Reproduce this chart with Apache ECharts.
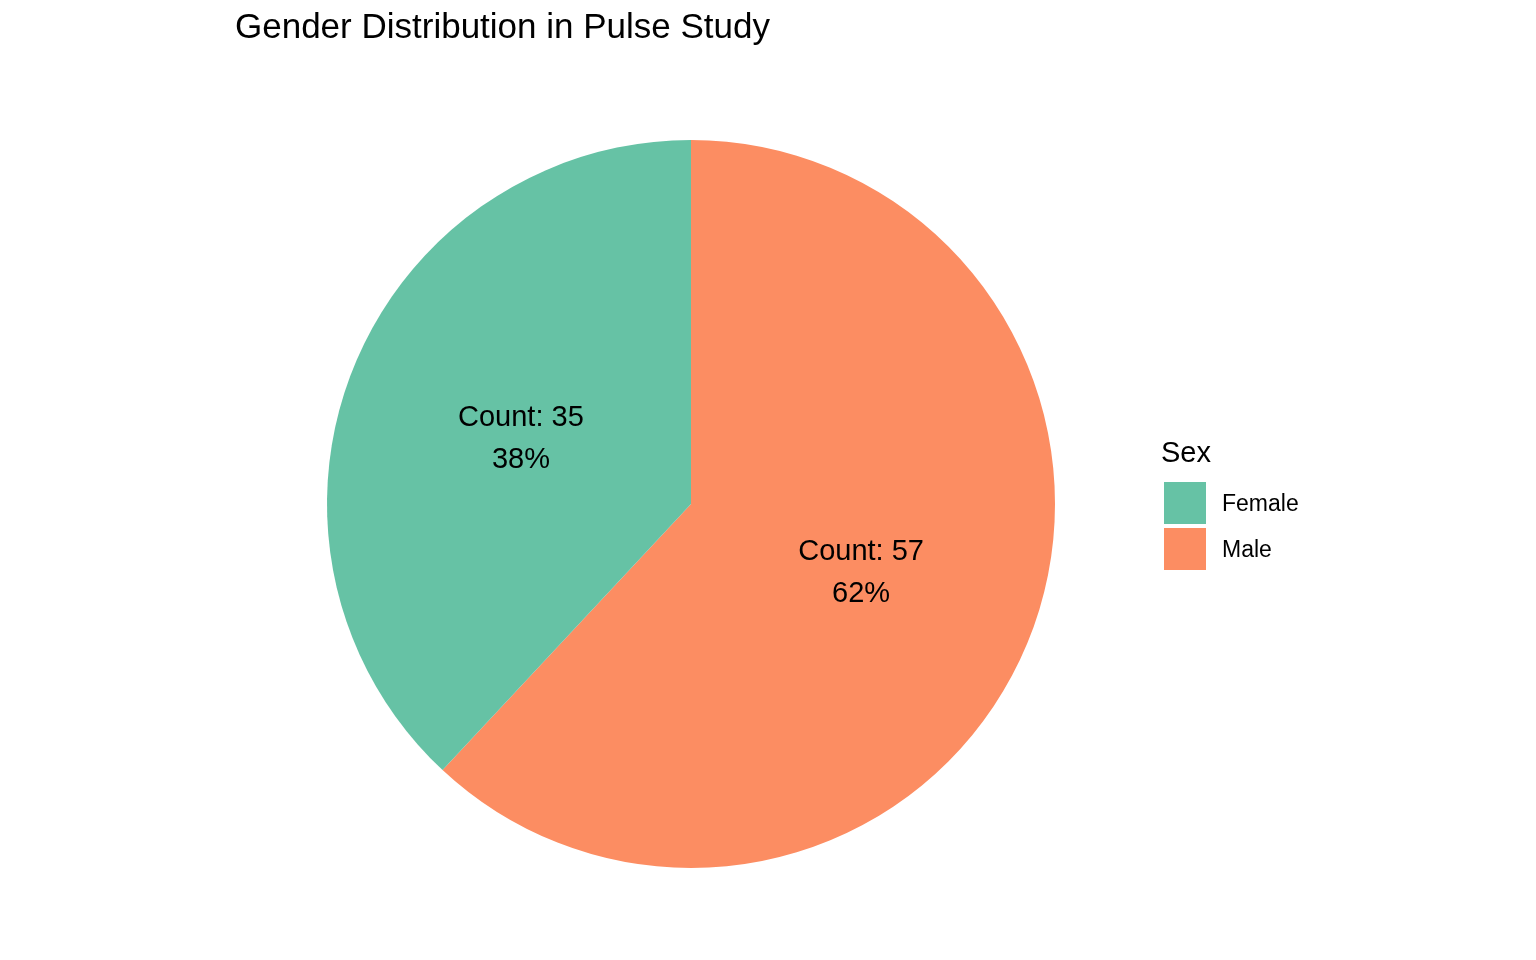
<!DOCTYPE html>
<html>
<head>
<meta charset="utf-8">
<script src="https://cdn.jsdelivr.net/npm/echarts@6/dist/echarts.min.js"></script>
<style>
html,body{margin:0;padding:0;background:#fff;}
#chart{width:1536px;height:960px;}
</style>
</head>
<body>
<div id="chart"></div>
<script>
const categories = ['Male', 'Female'];
const counts = [57, 35];
const colors = { Female: '#66C2A5', Male: '#FC8D62' };
const legendOrder = ['Female', 'Male'];
const chartTitle = 'Gender Distribution in Pulse Study';
const legendTitle = 'Sex';

const labelOffsets = { Female: [2, 3], Male: [-2, 1] };
const FONT = 'Liberation Sans, Arial, Helvetica, sans-serif';
const chart = echarts.init(document.getElementById('chart'));
chart.setOption({
  backgroundColor: '#ffffff',
  animation: false,
  title: [
    { text: chartTitle, left: 235, top: 11, padding: 0,
      textStyle: { fontFamily: FONT, fontSize: 35, fontWeight: 'normal', color: '#000' } },
    { text: legendTitle, left: 1161, top: 439, padding: 0,
      textStyle: { fontFamily: FONT, fontSize: 29, fontWeight: 'normal', color: '#000' } }
  ],
  legend: {
    data: legendOrder,
    orient: 'vertical',
    left: 1164,
    top: 482,
    padding: 0,
    itemWidth: 42,
    itemHeight: 42,
    itemGap: 4,
    icon: 'rect',
    selectedMode: false,
    formatter: '{a|{name}}',
    textStyle: {
      fontFamily: FONT, fontSize: 23, color: '#000',
      rich: { a: { fontFamily: FONT, fontSize: 23, color: '#000', padding: [4, 0, 0, 11] } }
    }
  },
  series: [{
    type: 'pie',
    center: [691, 504],
    radius: [0, 364],
    startAngle: 90,
    clockwise: true,
    avoidLabelOverlap: false,
    silent: true,
    itemStyle: { borderWidth: 0 },
    label: {
      show: true,
      position: 'inside',
      fontFamily: FONT,
      fontSize: 29,
      lineHeight: 42,
      color: '#000',
      align: 'center',
      formatter: function (p) { return 'Count: ' + p.value + '\n' + Math.round(p.percent) + '%'; }
    },
    labelLine: { show: false },
    data: categories.map((c, i) => ({
      name: c, value: counts[i],
      itemStyle: { color: colors[c] },
      label: { offset: labelOffsets[c] }
    }))
  }]
});
</script>
</body>
</html>
